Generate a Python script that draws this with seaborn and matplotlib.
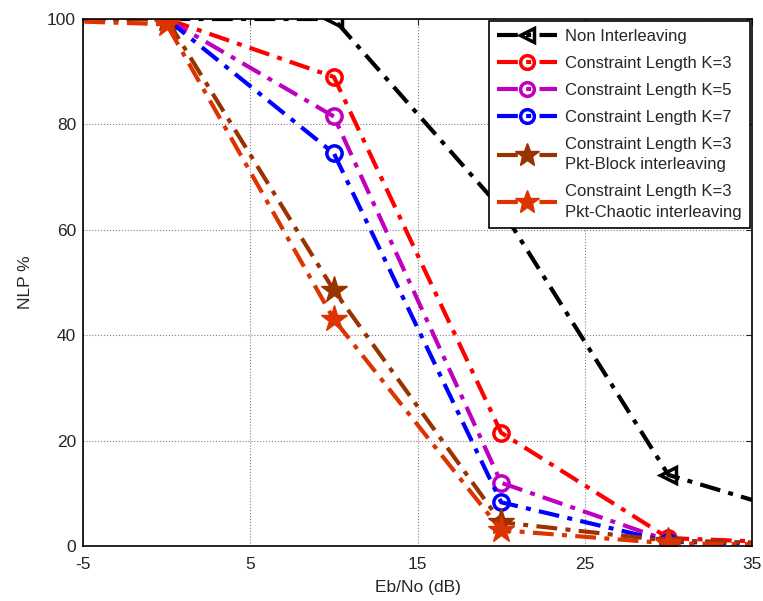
import numpy as np
import pandas as pd
import seaborn as sns
import matplotlib.pyplot as plt

sns.set_style("white")
plt.rcParams['font.family'] = ['Liberation Sans', 'DejaVu Sans']
plt.rcParams['axes.unicode_minus'] = False

# Eb/No (dB) - points at -10 and 40 fall outside the visible axis range
ebno = [-10, 0, 10, 20, 30, 40]

nlp_non = [100, 100, 100, 64, 13.5, 4]
nlp_k3 = [100, 100, 89, 21.5, 1.5, 0.3]
nlp_k5 = [100, 100, 81.5, 12, 1.0, 0.2]
nlp_k7 = [100, 100, 74.5, 8.3, 0.8, 0.2]
nlp_block = [100, 100, 48.5, 4.5, 1.0, 0.3]
nlp_chaotic = [100, 99, 43, 3, 0.5, 0.2]

labels = ["Non Interleaving", "Constraint Length K=3", "Constraint Length K=5",
          "Constraint Length K=7", "Constraint Length K=3\nPkt-Block interleaving",
          "Constraint Length K=3\nPkt-Chaotic interleaving"]
colors = ["black", "#ff0000", "#bf00bf", "#0000ff", "#993300", "#dd3300"]
markers = ["<", "o", "o", "o", "*", "*"]
series = [nlp_non, nlp_k3, nlp_k5, nlp_k7, nlp_block, nlp_chaotic]

fig = plt.figure(figsize=(7.63, 6.01), dpi=100)
ax = fig.add_axes([0.1088, 0.0915, 0.8768, 0.8769])

for y, lab, c, m in zip(series, labels, colors, markers):
    if m == "*":
        mk = dict(markersize=20, markerfacecolor=c, markeredgecolor=c, markeredgewidth=1)
    else:
        mk = dict(markersize=11, markerfacecolor="none", markeredgecolor=c, markeredgewidth=2.5)
    sns.lineplot(x=ebno, y=y, ax=ax, color=c, marker=m, linestyle=(0, (5, 2, 1.2, 2)),
                 linewidth=3, label=lab, sort=False, **mk)

ax.set_xlim(-5, 35)
ax.set_ylim(0, 100)
ax.set_xticks([-5, 5, 15, 25, 35])
ax.set_yticks([0, 20, 40, 60, 80, 100])
ax.grid(True, linestyle=":", color="#808080", linewidth=0.8)
ax.tick_params(direction="in", length=4, labelsize=12.5, top=True, right=True,
               labeltop=False, labelright=False)
ax.tick_params(axis="x", pad=8)
ax.tick_params(axis="y", pad=5)
for s in ax.spines.values():
    s.set_color("black")
    s.set_linewidth(1.2)
ax.set_xlabel("Eb/No (dB)", fontsize=12.5, labelpad=6)
ax.set_ylabel("NLP %", fontsize=12.5, labelpad=10)

leg = ax.legend(loc="upper right", fontsize=12, frameon=True, fancybox=False,
                edgecolor="black", framealpha=1, handlelength=3.6,
                borderaxespad=0.1, labelspacing=0.72, markerscale=0.9,
                borderpad=0.5, handletextpad=0.5)
leg.get_frame().set_linewidth(1.2)
for t in leg.get_texts():
    t.set_linespacing(1.45)

fig.savefig("out.png", dpi=100)
